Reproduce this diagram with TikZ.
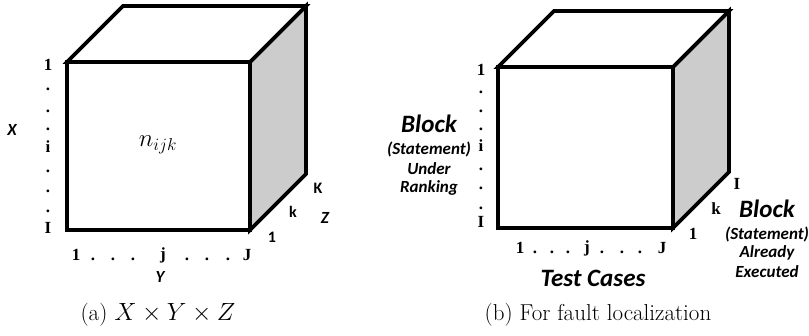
\documentclass[tikz,border=0pt]{standalone}
\usepackage{fontspec}
\usepackage{amsmath}
\usepackage{xcolor}
\usetikzlibrary{positioning}
\newfontfamily\cubesans{Carlito}
\newfontfamily\cubeserif{Liberation Serif}
\definecolor{sidegray}{HTML}{CCCCCC}
\tikzset{
  face/.style={draw=black, line width=3.6pt, line join=miter},
  idx/.style={font=\cubeserif\bfseries\fontsize{17}{19}\selectfont, inner sep=0pt},
  idxdot/.style={idx, anchor=base},
  sidx/.style={font=\cubesans\bfseries\fontsize{16}{18}\selectfont, inner sep=0pt},
  axislab/.style={font=\cubesans\bfseries\itshape\fontsize{17}{19}\selectfont, inner sep=0pt},
  biglab/.style={font=\cubesans\bfseries\itshape\fontsize{25}{29}\selectfont, inner sep=0pt},
  smalllab/.style={font=\cubesans\bfseries\itshape\fontsize{17}{20}\selectfont, inner sep=0pt},
  caption/.style={font=\fontsize{23}{27}\selectfont, inner sep=0pt}
}
\begin{document}
\begin{tikzpicture}[x=1pt,y=-1pt]
\useasboundingbox (0,0) rectangle (809,335);
% corners of both cubes
\foreach \c/\l/\t/\r/\b in {a/67/62/250/230, b/498/67/673/228} {
  \coordinate (\c-ftl) at (\l,\t);
  \coordinate (\c-ftr) at (\r,\t);
  \coordinate (\c-fbr) at (\r,\b);
  \coordinate (\c-fbl) at (\l,\b);
  \coordinate (\c-btl) at (\l+56,\t-56);
  \coordinate (\c-btr) at (\r+56,\t-56);
  \coordinate (\c-bbr) at (\r+56,\b-56);
}
\foreach \c in {a,b} {
  \draw[face, fill=sidegray] (\c-ftr) -- (\c-btr) -- (\c-bbr) -- (\c-fbr) -- cycle;
  \draw[face, fill=white] (\c-ftl) -- (\c-btl) -- (\c-btr) -- (\c-ftr) -- cycle;
  \draw[face, fill=white] (\c-ftl) -- (\c-ftr) -- (\c-fbr) -- (\c-fbl) -- cycle;
}

% (a) X x Y x Z
\node[idx] (a-x1) at (48,65) {1};
\node[idx] (a-xi) at (48,147) {i};
\node[idx] (a-xI) at (48,228) {I};
\foreach \y in {88,110,128,170,190,210} \node[idxdot] at (48,\y+2) {.};
\node[axislab] (a-X) at (12,130) {X};
\node (a-n) at (158,145) {\fontsize{25}{30}\selectfont$n_{ijk}$};
\node[idx] (a-y1) at (76,255) {1};
\node[idx] (a-yj) at (163,255) {j};
\node[idx] (a-yJ) at (247,255) {J};
\foreach \x in {93,113,133,187,207,228} \node[idxdot] at (\x,260) {.};
\node[axislab] (a-Y) at (160,277) {Y};
\node[sidx] (a-zK) at (318,188) {K};
\node[sidx] (a-zk) at (293,212) {k};
\node[sidx] (a-z1) at (272,237) {1};
\node[axislab] (a-Z) at (325,218) {Z};
\node[caption] (a-cap) at (158,315) {(a) $X\times Y\times Z$};

% (b) fault localization
\node[idx] (b-x1) at (481,70) {1};
\node[idx] (b-xi) at (481,146) {i};
\node[idx] (b-xI) at (481,222) {I};
\foreach \y in {91,110,128,168,187,207} \node[idxdot] at (481,\y+2) {.};
\node[biglab] (b-blk1) at (429,124) {Block};
\node[smalllab] (b-stm1) at (429,149) {(Statement)};
\node[smalllab] (b-und) at (429,169) {Under};
\node[smalllab] (b-rnk) at (429,188) {Ranking};
\node[idx] (b-y1) at (520,248) {1};
\node[idx] (b-yj) at (587,248) {j};
\node[idx] (b-yJ) at (662,248) {J};
\foreach \x in {535,552,568,602,622,640} \node[idxdot] at (\x,253) {.};
\node[biglab] (b-test) at (593,278) {Test Cases};
\node[idx] (b-zI) at (737,184) {I};
\node[idx] (b-zk) at (716,209) {k};
\node[idx] (b-z1) at (693,234) {1};
\node[biglab] (b-blk2) at (767,209) {Block};
\node[smalllab] (b-stm2) at (767,234) {(Statement)};
\node[smalllab] (b-alr) at (767,253) {Already};
\node[smalllab] (b-exe) at (767,272) {Executed};
\node[caption] (b-cap) at (598,315) {(b) For fault localization};
\end{tikzpicture}
\end{document}
